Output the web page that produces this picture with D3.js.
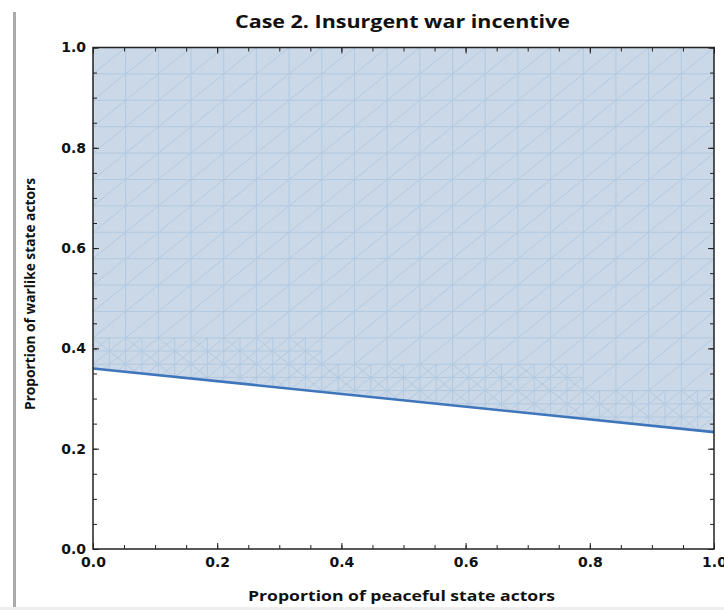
<!DOCTYPE html>
<html lang="en">
<head>
    <meta charset="UTF-8">
    <title>Case 2. Insurgent war incentive</title>
    <script src="https://d3js.org/d3.v7.min.js"></script>
    <style>
        body { margin: 0; background: #fff; }
        .tick text { font-family: "DejaVu Sans", sans-serif; font-weight: bold; font-size: 14px; fill: #111; }
        .tick line { stroke: #222; }
    </style>
</head>
<body>

<svg id="chart" width="724" height="610"></svg>

<script>
    // data
    const boundaryX = [0, 1];          // proportion of peaceful state actors
    const boundaryY = [0.36, 0.233];   // threshold of warlike state actors
    const majorTicks = [0, 0.2, 0.4, 0.6, 0.8, 1.0];
    const majorLabels = ["0.0", "0.2", "0.4", "0.6", "0.8", "1.0"];
    const minorTicks = d3.range(0, 1.0001, 0.05);
    const meshDivisions = 19;

    const title = "Case 2. Insurgent war incentive";
    const xTitle = "Proportion of peaceful state actors";
    const yTitle = "Proportion of warlike state actors";

    const svg = d3.select("#chart");
    const plotLeft = 93, plotRight = 714, plotTop = 47.5, plotBottom = 549;

    const x = d3.scaleLinear().domain([0, 1]).range([plotLeft, plotRight]);
    const y = d3.scaleLinear().domain([0, 1]).range([plotBottom, plotTop]);

    // screenshot edge (grey bar on left, faint line at bottom)
    svg.append("rect").attr("x", 13).attr("y", 12).attr("width", 3).attr("height", 598).attr("fill", "#aaa");
    svg.append("rect").attr("x", 0).attr("y", 607).attr("width", 724).attr("height", 3).attr("fill", "#eee");

    // shaded region above the boundary
    const boundary = boundaryX.map((d, i) => [d, boundaryY[i]]);
    const region = boundary.concat([[1, 1], [0, 1]]);
    const lineGen = d3.line().x(d => x(d[0])).y(d => y(d[1]));

    svg.append("clipPath").attr("id", "regionClip")
        .append("path").attr("d", lineGen(region) + "Z");

    svg.append("path")
        .attr("d", lineGen(region) + "Z")
        .attr("fill", "#cbd8e7");

    // mesh inside region
    const mesh = svg.append("g").attr("clip-path", "url(#regionClip)")
        .attr("stroke", "#b2c9e0").attr("stroke-width", 1).attr("fill", "none");
    const step = 1 / meshDivisions;
    const segs = [];
    for (let k = 0; k <= meshDivisions; k++) {
        segs.push([[k * step, 0], [k * step, 1]]);
        segs.push([[0, k * step], [1, k * step]]);
    }
    for (let k = -meshDivisions; k <= meshDivisions; k++) {
        segs.push([[0, k * step], [1, 1 + k * step]]);
    }
    // refinement near the boundary
    const bAt = v => boundaryY[0] + (boundaryY[1] - boundaryY[0]) * v;
    for (let i = 0; i < meshDivisions; i++) {
        const x0 = i * step, x1 = x0 + step;
        const lo = Math.min(bAt(x0), bAt(x1)), hi = Math.max(bAt(x0), bAt(x1));
        const j0 = Math.floor(lo / step), j1 = Math.floor(hi / step) + 1;
        for (let j = j0; j <= j1; j++) {
            const y0 = j * step, y1 = y0 + step, h = step / 2;
            segs.push([[x0 + h, y0], [x0 + h, y1]]);
            segs.push([[x0, y0 + h], [x1, y0 + h]]);
            segs.push([[x0, y1], [x1, y0]]);
            segs.push([[x0, y0 + h], [x0 + h, y1]]);
            segs.push([[x0 + h, y0], [x1, y0 + h]]);
        }
    }
    mesh.selectAll("path").data(segs).enter().append("path")
        .attr("d", d => lineGen(d));

    // boundary line
    svg.append("path")
        .datum(boundary)
        .attr("d", lineGen)
        .attr("fill", "none")
        .attr("stroke", "#3f76bb")
        .attr("stroke-width", 2.6);

    // axes: inward ticks on all four sides
    function addAxis(axisFn, scale, tx, ty, labels) {
        const major = axisFn(scale).tickValues(majorTicks).tickSize(-6)
            .tickFormat((d, i) => labels ? majorLabels[i] : "");
        const minor = axisFn(scale).tickValues(minorTicks).tickSize(-4).tickFormat("");
        svg.append("g").attr("transform", `translate(${tx},${ty})`).call(minor).call(g => g.select(".domain").remove());
        const g = svg.append("g").attr("transform", `translate(${tx},${ty})`).call(major);
        g.select(".domain").remove();
        return g;
    }
    addAxis(d3.axisBottom, x, 0, plotBottom, true).call(a => a.selectAll("text").attr("y", 8));
    addAxis(d3.axisLeft, y, plotLeft, 0, true).call(a => a.selectAll("text").attr("x", -7));
    addAxis(d3.axisTop, x, 0, plotTop, false);
    addAxis(d3.axisRight, y, plotRight, 0, false);

    // frame
    svg.append("rect")
        .attr("x", plotLeft).attr("y", plotTop)
        .attr("width", plotRight - plotLeft).attr("height", plotBottom - plotTop)
        .attr("fill", "none").attr("stroke", "#222").attr("stroke-width", 1.5);

    // titles
    svg.append("text").text(title)
        .attr("x", 402.5).attr("y", 28)
        .attr("text-anchor", "middle")
        .attr("textLength", 335).attr("lengthAdjust", "spacingAndGlyphs")
        .style("font-family", "'Open Sans', sans-serif").style("font-weight", "bold").style("font-size", "17px")
        .attr("fill", "#111");

    svg.append("text").text(xTitle)
        .attr("x", 401.5).attr("y", 601)
        .attr("text-anchor", "middle")
        .attr("textLength", 307).attr("lengthAdjust", "spacingAndGlyphs")
        .style("font-family", "'Open Sans', sans-serif").style("font-weight", "bold").style("font-size", "15px")
        .attr("fill", "#111");

    svg.append("text").text(yTitle)
        .attr("transform", "translate(35,294) rotate(-90)")
        .attr("text-anchor", "middle")
        .attr("textLength", 232).attr("lengthAdjust", "spacingAndGlyphs")
        .style("font-family", "'Open Sans', sans-serif").style("font-weight", "bold").style("font-size", "15px")
        .attr("fill", "#111");
</script>

</body>
</html>
